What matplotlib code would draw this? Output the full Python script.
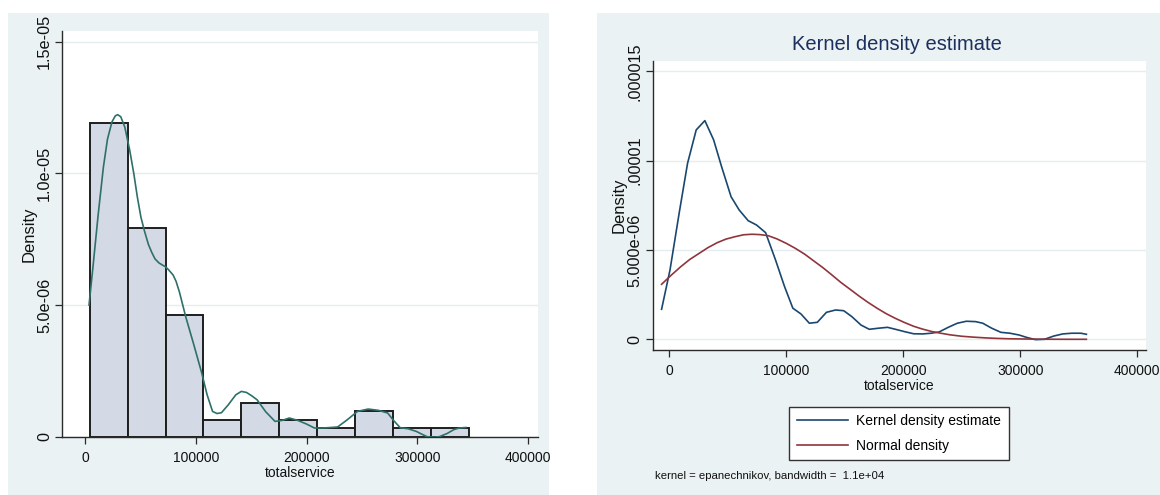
import numpy as np
import matplotlib
matplotlib.use("Agg")
import matplotlib.pyplot as plt
from matplotlib.patches import Rectangle

plt.rcParams['font.family'] = ['Liberation Sans', 'DejaVu Sans']

# histogram of totalservice (left panel)
bin_edges = [3900, 38200, 72500, 106800, 141100, 175400, 209700, 244000, 278300, 312600, 346900]
hist_density = [11.93e-6, 7.94e-6, 4.63e-6, 0.63e-6, 1.29e-6, 0.63e-6, 0.32e-6, 0.98e-6, 0.32e-6, 0.33e-6]

# overlaid density curve (left panel), values in 1e-6
left_kde_x = [3300, 7000, 11500, 16300, 20000, 24000, 27000, 29200, 32000, 35700, 40000, 43800,
              47000, 50200, 53500, 57000, 60000, 63000, 66500, 69600, 72500, 75000, 79300, 82000,
              85000, 90700, 98000, 105200, 110000, 115000, 119000, 123000, 129000, 136000, 141000,
              145700, 150500, 155300, 163000, 171500, 178000, 184400, 192000, 200000, 207100,
              215000, 222000, 228100, 237000, 246000, 255700, 265000, 273300, 279000, 284700,
              292000, 299300, 304000, 309000, 315000, 320000, 327000, 333200, 338000, 344000]
left_kde_y = [5.0, 6.5, 8.4, 10.24, 11.3, 11.95, 12.18, 12.23, 12.15, 11.75, 10.9, 9.99,
              9.1, 8.34, 7.8, 7.3, 7.0, 6.75, 6.6, 6.52, 6.45, 6.35, 6.14, 5.9,
              5.5, 4.56, 3.5, 2.42, 1.6, 0.96, 0.88, 0.91, 1.2, 1.59, 1.72,
              1.68, 1.55, 1.4, 0.95, 0.58, 0.62, 0.71, 0.62, 0.48, 0.33,
              0.33, 0.35, 0.37, 0.65, 0.96, 1.05, 1.0, 0.9, 0.6, 0.34,
              0.3, 0.2, 0.1, 0.0, -0.02, 0.0, 0.12, 0.27, 0.33, 0.35]

# kernel density estimate (right panel), values in 1e-6
kde_x = [-6600, 600, 8400, 15600, 23000, 30400, 37900, 44700, 52800, 59700, 67400, 74500,
         82300, 90800, 98500, 105600, 112500, 119700, 126500, 134300, 142100, 149100, 156000,
         163800, 170900, 178700, 186500, 193300, 201000, 208800, 216600, 223800, 230600,
         238400, 246200, 253900, 261700, 267900, 275600, 283400, 291200, 299000, 305200,
         313000, 320700, 328500, 336200, 344000, 351800, 356500]
kde_y = [1.68, 3.88, 7.05, 9.85, 11.72, 12.24, 11.16, 9.66, 7.98, 7.24, 6.64, 6.4,
         5.97, 4.44, 2.95, 1.74, 1.42, 0.9, 0.95, 1.51, 1.64, 1.6, 1.27,
         0.8, 0.56, 0.62, 0.67, 0.56, 0.43, 0.31, 0.3, 0.34, 0.41,
         0.67, 0.9, 1.01, 0.99, 0.9, 0.62, 0.39, 0.34, 0.24, 0.11,
         -0.02, 0.0, 0.18, 0.3, 0.34, 0.34, 0.28]

# normal density (right panel), values in 1e-6
norm_x = [-6600, 1500, 9900, 17500, 25500, 33000, 41000, 48500, 56600, 63500, 70500, 77500,
          84500, 92000, 100000, 107500, 115600, 123000, 131100, 139000, 146700, 154500,
          162200, 170000, 177800, 185500, 193300, 201000, 208800, 216000, 224000, 232000,
          240000, 250000, 260000, 270000, 280000, 290000, 300000, 320000, 340000, 356500]
norm_y = [3.08, 3.58, 4.07, 4.47, 4.81, 5.13, 5.41, 5.61, 5.75, 5.85, 5.88, 5.86,
          5.8, 5.62, 5.37, 5.1, 4.77, 4.41, 4.02, 3.6, 3.18, 2.8,
          2.42, 2.06, 1.73, 1.43, 1.17, 0.94, 0.73, 0.58, 0.44, 0.34,
          0.25, 0.17, 0.12, 0.08, 0.05, 0.03, 0.02, 0.005, 0.0, 0.0]

x_ticks = [0, 100000, 200000, 300000, 400000]
left_y_ticks = [0, 5e-6, 1e-5, 1.5e-5]
left_y_labels = ['0', '5.0e-06', '1.0e-05', '1.5e-05']
right_y_ticks = [0, 5e-6, 1e-5, 1.5e-5]
right_y_labels = ['0', '5.000e-06', '.00001', '.000015']

W, H = 1160, 495
BG = '#EAF2F3'
AXC = '#2a2a2a'


def rect(l, t, r, b):
    return [l / W, 1 - b / H, (r - l) / W, (b - t) / H]


fig = plt.figure(figsize=(W / 100, H / 100), dpi=100, facecolor='white')
fig.add_artist(Rectangle((8 / W, 0), (549 - 8) / W, 1 - 13 / H, transform=fig.transFigure,
                         facecolor=BG, edgecolor='none', zorder=0))
fig.add_artist(Rectangle((597 / W, 0), (1160 - 597) / W, 1 - 13 / H, transform=fig.transFigure,
                         facecolor=BG, edgecolor='none', zorder=0))

ax1 = fig.add_axes(rect(61.7, 31, 538.4, 436.7))
ax2 = fig.add_axes(rect(652.5, 60.7, 1145.6, 350))


def style(ax, yticks, ylabels):
    ax.set_facecolor('white')
    for s in ['top', 'right']:
        ax.spines[s].set_visible(False)
    for s in ['left', 'bottom']:
        ax.spines[s].set_color(AXC)
        ax.spines[s].set_linewidth(1.0)
    ax.set_xticks(x_ticks)
    ax.set_xticklabels([str(v) for v in x_ticks])
    ax.set_yticks(yticks)
    ax.set_yticklabels(ylabels, rotation=90, va='center', fontsize=11.7)
    ax.tick_params(direction='out', length=5, width=0.9, color=AXC, labelcolor='#111111')
    ax.tick_params(axis='x', pad=5, labelsize=10)
    ax.tick_params(axis='y', pad=2)
    ax.yaxis.grid(True, color='#E4EDEF', linewidth=1.0)
    ax.set_axisbelow(True)
    ax.set_xlabel('totalservice', fontsize=10, labelpad=1, color='#111111')
    ax.set_ylabel('Density', fontsize=12, color='#111111')
    ax.yaxis.set_label_coords(-0.053, 0.5)


# left panel
ax1.bar(bin_edges[:-1], hist_density, width=np.diff(bin_edges), align='edge',
        color='#D3D9E5', edgecolor='#1e1e1e', linewidth=1.4, zorder=2)
ax1.plot(left_kde_x, np.array(left_kde_y) * 1e-6, color='#2F7068', linewidth=1.2, zorder=3)
ax1.set_xlim(-21400, 409600)
ax1.set_ylim(0, 1.5406e-5)
style(ax1, left_y_ticks, left_y_labels)

# right panel
ax2.plot(kde_x, np.array(kde_y) * 1e-6, color='#1A476F', linewidth=1.2,
         label='Kernel density estimate', zorder=3)
ax2.plot(norm_x, np.array(norm_y) * 1e-6, color='#90353B', linewidth=1.2,
         label='Normal density', zorder=3)
ax2.set_xlim(-14360, 407100)
ax2.set_ylim(-0.599e-6, 1.5594e-5)
style(ax2, right_y_ticks, right_y_labels)
fig.text(897 / W, 1 - 44.5 / H, 'Kernel density estimate', ha='center', va='center',
         fontsize=14.5, color='#1C2F5E')

leg = ax2.legend(loc='center', bbox_to_anchor=((785.6 + 1012.5) / 2 / W, 1 - 433.5 / H),
                 bbox_transform=fig.transFigure, fontsize=10, frameon=True, fancybox=False,
                 handlelength=3.7, handletextpad=0.6, borderpad=0.55, labelspacing=0.75,
                 borderaxespad=0)
leg.get_frame().set_edgecolor('#333333')
leg.get_frame().set_linewidth(1.0)
leg.get_frame().set_facecolor('white')
leg.get_frame().set_alpha(1)

fig.text(654.7 / W, 1 - 476 / H, 'kernel = epanechnikov, bandwidth =  1.1e+04',
         ha='left', va='center', fontsize=8.2, color='#111111')

fig.savefig('out.png', dpi=100)
